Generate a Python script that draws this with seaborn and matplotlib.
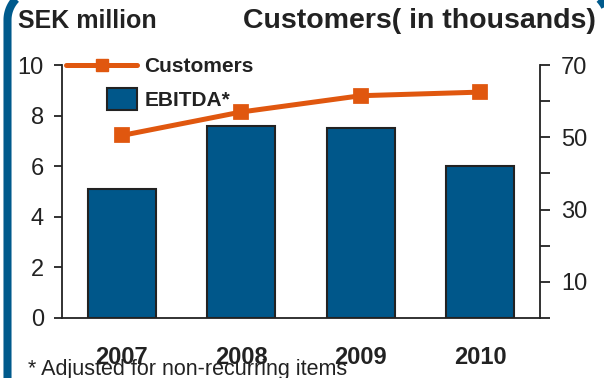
import matplotlib
matplotlib.use("Agg")
import matplotlib.pyplot as plt
import seaborn as sns
import pandas as pd
import numpy as np
from matplotlib.patches import Patch, Rectangle
from matplotlib.lines import Line2D
from matplotlib.legend_handler import HandlerPatch

years = ["2007", "2008", "2009", "2010"]
ebitda = [5.1, 7.6, 7.5, 6.0]
customers = [50.5, 57.0, 61.5, 62.5]

BLUE = "#00578A"
ORANGE = "#E0570F"
DARK = "#222222"

sns.set_theme(style="white")
plt.rcParams["font.family"] = ["Liberation Sans", "DejaVu Sans"]

fig = plt.figure(figsize=(6.04, 3.78), dpi=100)
ax = fig.add_axes([62/604, 1-318/378, (540-62)/604, (318-65)/378])

df = pd.DataFrame({"year": years, "ebitda": ebitda, "customers": customers})
sns.barplot(data=df, x="year", y="ebitda", ax=ax, color=BLUE, width=0.57,
            edgecolor=DARK, linewidth=1.5, saturation=1)
ax.set_ylim(0, 10)
ax.set_xlim(-0.5, 3.5)
ax.set_yticks([0, 2, 4, 6, 8, 10])
ax.set_xlabel("")
ax.set_ylabel("")
for s in ["top", "right"]:
    ax.spines[s].set_visible(False)
for s in ["left", "bottom"]:
    ax.spines[s].set_color(DARK)
    ax.spines[s].set_linewidth(1.3)
ax.tick_params(axis="y", direction="out", length=6, width=1.3, color=DARK,
               labelsize=17, pad=7, labelcolor="#222222", left=True)
ax.tick_params(axis="x", length=0, pad=20, labelsize=17, labelcolor="#222222")
for t in ax.get_xticklabels():
    t.set_fontweight("bold")

ax2 = ax.twinx()
sns.pointplot(data=df, x="year", y="customers", ax=ax2, color=ORANGE,
              markers="s", markersize=9, linewidth=3.6)
ax2.set_ylim(0, 70)
ax2.set_xlim(-0.5, 3.5)
ax2.set_yticks([0, 10, 20, 30, 40, 50, 60, 70])
ax2.set_yticklabels(["", "10", "", "30", "", "50", "", "70"])
ax2.set_ylabel("")
ax2.set_xlabel("")
for s in ["top", "left", "bottom"]:
    ax2.spines[s].set_visible(False)
ax2.spines["right"].set_color(DARK)
ax2.spines["right"].set_linewidth(1.3)
ax2.tick_params(axis="y", direction="out", length=7, width=1.3, color=DARK,
                labelsize=17, pad=8, labelcolor="#222222", right=True)

class RightSquare(HandlerPatch):
    def create_artists(self, legend, orig_handle, xdescent, ydescent, width,
                       height, fontsize, trans):
        h = height * 1.55
        w = h * 1.35
        r = Rectangle((width - w - xdescent, -ydescent + height/2 - h/2), w, h,
                      facecolor=BLUE, edgecolor=DARK, linewidth=1.5,
                      transform=trans)
        return [r]

handles = [Line2D([], [], color=ORANGE, lw=3.6, marker="s", markersize=9),
           Patch(facecolor=BLUE, edgecolor=DARK)]
leg = ax.legend(handles, ["Customers", "EBITDA*"], loc="upper left",
                bbox_to_anchor=(-0.03, 1.105), frameon=False, handlelength=3.4,
                handletextpad=0.35, labelspacing=0.72,
                prop={"weight": "bold", "size": 15},
                handler_map={Patch: RightSquare()})
for t in leg.get_texts():
    t.set_color("#222222")

fig.text(18/604, 1-28/378, "SEK million", fontsize=18, fontweight="bold",
         color="#222222", va="baseline", ha="left")
fig.text(596/604, 1-28/378, "Customers( in thousands)", fontsize=20.5,
         fontweight="bold", color="#222222", va="baseline", ha="right")
fig.text(28/604, 1-369/378, "* Adjusted for non-recurring items", fontsize=15.5,
         color="#222222", va="center", ha="left")

# decorative rounded frame, drawn on an overlay axes in pixel units
ov = fig.add_axes([0, 0, 1, 1], facecolor="none", zorder=20)
ov.set_xlim(0, 604)
ov.set_ylim(0, 378)
ov.axis("off")
xl, xr, yt, rad = 7.5, 608.0, 388.0, 30.0
t1 = np.linspace(np.pi, np.pi / 2, 40)
t2 = np.linspace(np.pi / 2, 0, 40)
fx = np.concatenate([[xl], xl + rad + rad * np.cos(t1), xr - rad + rad * np.cos(t2), [xr]])
fy = np.concatenate([[-20], yt - rad + rad * np.sin(t1), yt - rad + rad * np.sin(t2), [-20]])
ov.plot(fx, fy, color="#005A8C", lw=5.8, solid_capstyle="butt", clip_on=False)

fig.savefig("out.png", dpi=100)
